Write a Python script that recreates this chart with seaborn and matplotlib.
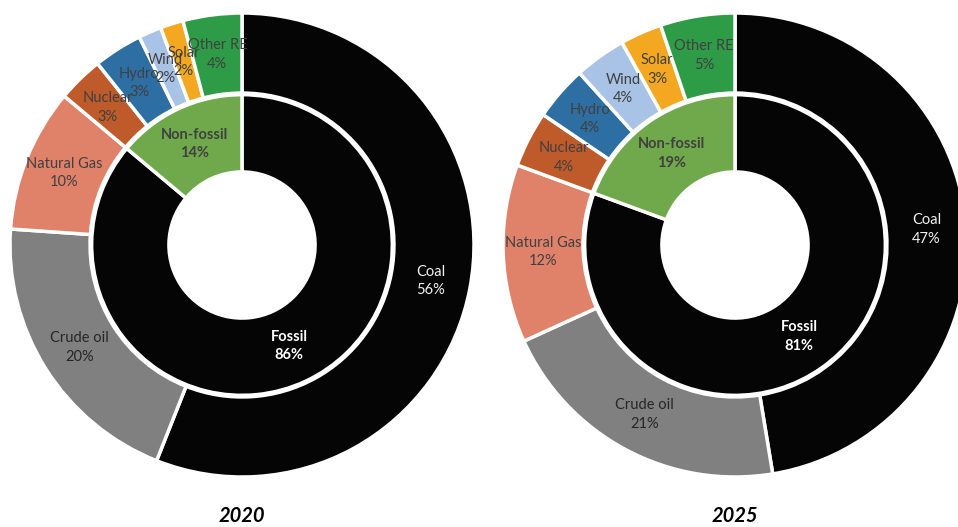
import matplotlib
matplotlib.use("Agg")
import matplotlib.pyplot as plt
import seaborn as sns

# 数据 (share of primary energy, %)
sources = ['Coal', 'Crude oil', 'Natural Gas', 'Nuclear', 'Hydro', 'Wind', 'Solar', 'Other RE']
share_2020 = [56.0, 20.1, 10.0, 3.2, 3.4, 1.6, 1.6, 4.1]
share_2025 = [47.4, 20.8, 12.4, 3.9, 3.8, 3.6, 2.9, 5.2]

groups = ['Fossil', 'Non-fossil']
group_2020 = [86.1, 13.9]
group_2025 = [80.6, 19.4]

years = ['2020', '2025']

source_colors = ['#050505', '#808080', '#E0826A', '#BF5B2A', '#2E6FA3', '#A8C3E5', '#F4A822', '#2E9B47']
group_colors = ['#050505', '#70A94B']
source_text = ['#F2F2F2', '#262626'] + ['#404040'] * 6

sns.set_theme(style="white")
plt.rcParams['font.family'] = ['Lato', 'DejaVu Sans']

fig = plt.figure(figsize=(9.58, 5.27), dpi=100)

W, H = 958, 527
R = 232  # outer radius in px
centers = [(242, 245), (735, 245)]


def donut(ax, outer, inner, year):
    outer_r, outer_w = 1.0, 0.345
    inner_r, inner_w = 0.648, 0.333
    labels = [f"{n}\n{v:.0f}%" for n, v in zip(sources, outer)]
    _, texts = ax.pie(outer, labels=labels, colors=source_colors, startangle=90, counterclock=False,
                      radius=outer_r, labeldistance=(outer_r - outer_w / 2) / outer_r,
                      wedgeprops=dict(width=outer_w, edgecolor='white', linewidth=2.5),
                      textprops=dict(ha='center', va='center', fontsize=10.5, linespacing=1.4))
    for t, c in zip(texts, source_text):
        t.set_color(c)

    glabels = [f"{n}\n{v:.0f}%" for n, v in zip(groups, inner)]
    _, gtexts = ax.pie(inner, labels=glabels, colors=group_colors, startangle=90, counterclock=False,
                       radius=inner_r, labeldistance=(inner_r - inner_w / 2) / inner_r,
                       wedgeprops=dict(width=inner_w, edgecolor='white', linewidth=2.5),
                       textprops=dict(ha='center', va='center', fontsize=10.5, fontweight='bold',
                                      linespacing=1.4))
    gtexts[0].set_color('white')
    gtexts[1].set_color('#404040')

    ax.set_xlim(-1, 1)
    ax.set_ylim(-1, 1)
    ax.set_aspect('equal')
    ax.axis('off')
    ax.text(0, -1.17, year, ha='center', va='center', fontsize=14.5,
            fontweight='bold', fontstyle='italic', color='black')


for (cx, cy), outer, inner, year in zip(centers, [share_2020, share_2025], [group_2020, group_2025], years):
    ax = fig.add_axes([(cx - R) / W, (H - cy - R) / H, 2 * R / W, 2 * R / H])
    donut(ax, outer, inner, year)

plt.savefig('out.png', dpi=100)
